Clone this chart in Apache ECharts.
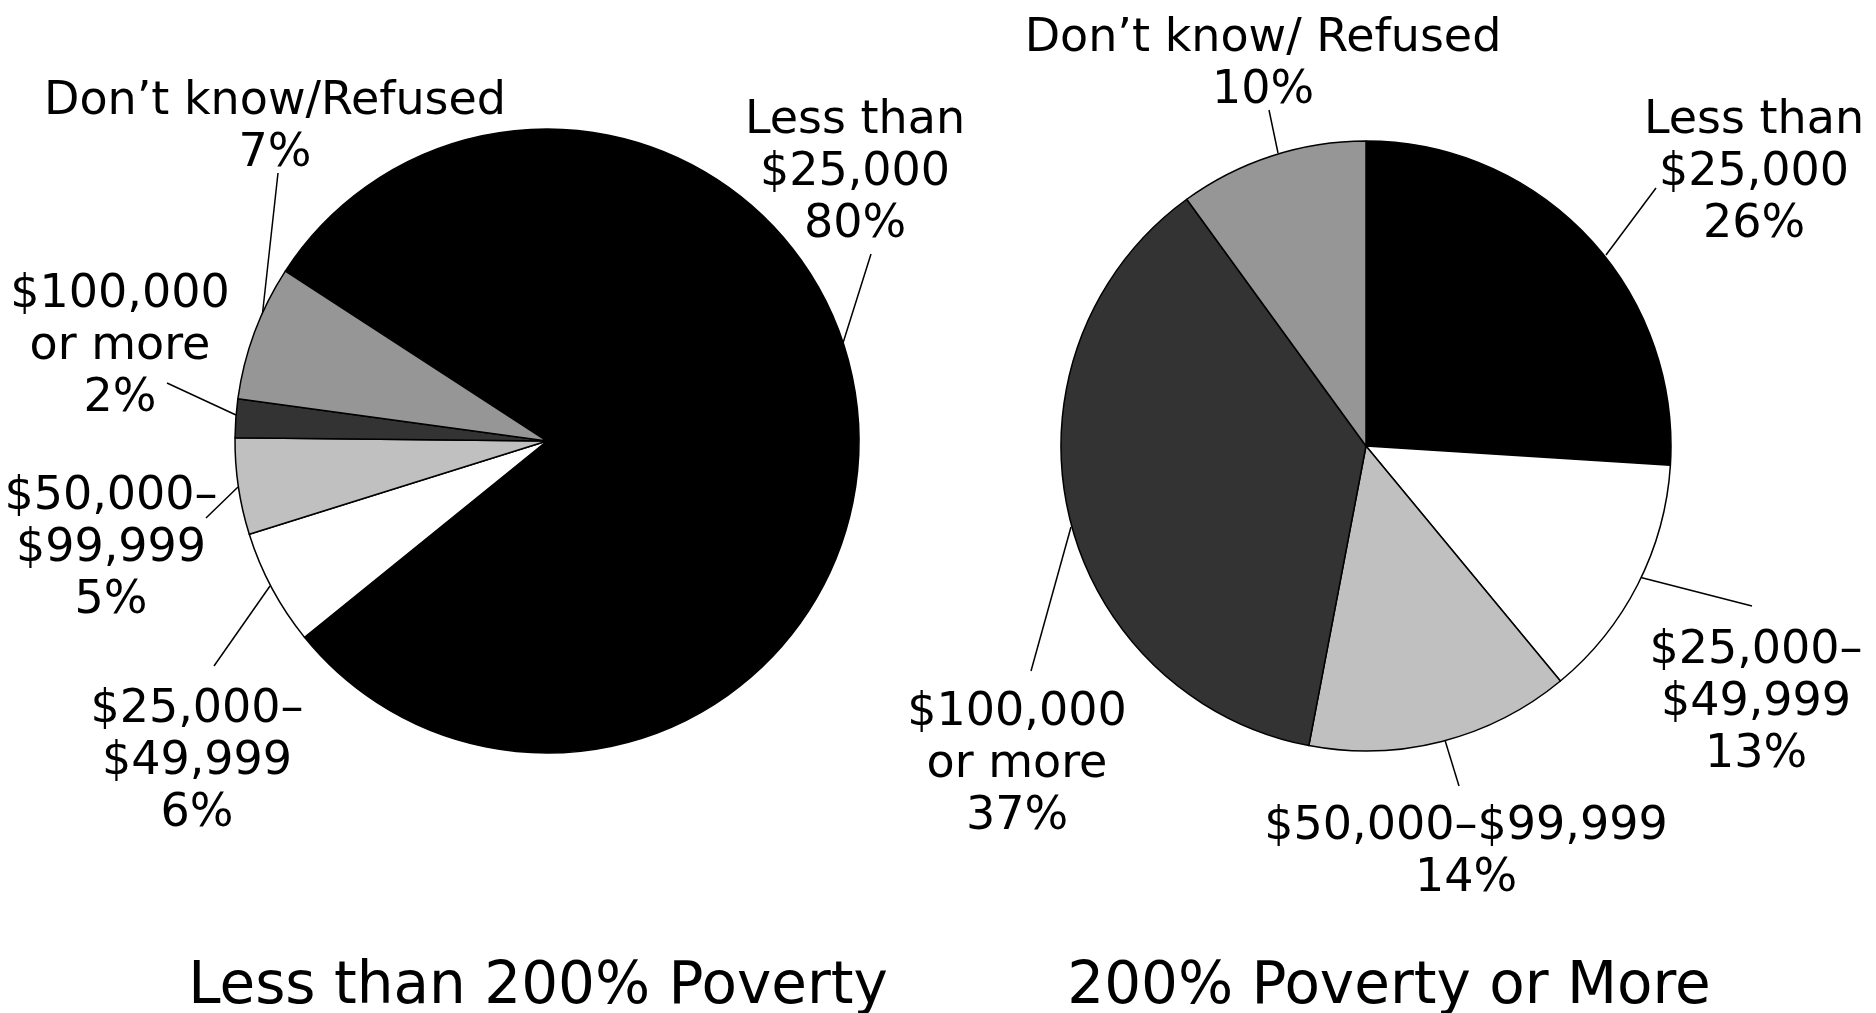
<!DOCTYPE html>
<html>
<head>
<meta charset="utf-8">
<title>Income by poverty level</title>
<script src="https://cdn.jsdelivr.net/npm/echarts@6/dist/echarts.min.js"></script>
<style>
html, body { margin: 0; padding: 0; background: #fff; }
#chart { width: 1876px; height: 1013px; }
</style>
</head>
<body>
<div id="chart"></div>
<script>
// data
const leftNames = ['Less than\n$25,000', '$25,000–\n$49,999', '$50,000–\n$99,999', '$100,000\nor more', 'Don’t know/Refused']
const leftValues = [80, 6, 5, 2, 7]
const rightNames = ['Less than\n$25,000', '$25,000–\n$49,999', '$50,000–$99,999', '$100,000\nor more', 'Don’t know/ Refused']
const rightValues = [26, 13, 14, 37, 10]
const titles = ['Less than 200% Poverty', '200% Poverty or More']

const colors = ['#000000', '#ffffff', '#c0c0c0', '#333333', '#969696']
const fontFamily = '"DejaVu Sans", sans-serif'

// label placement: label centre, leader start (on pie edge), leader end
const leftLabels = [
    { x: 855, y: 173, line: [[843, 343], [871, 254]] },
    { x: 197, y: 762, line: [[270, 586], [214, 666]] },
    { x: 111, y: 549, line: [[238, 487], [206, 518]] },
    { x: 120, y: 347, line: [[236, 415], [167, 383]] },
    { x: 275, y: 128, line: [[262, 318], [278, 173]] }
]
const rightLabels = [
    { x: 1754, y: 173, line: [[1606, 255], [1656, 188]] },
    { x: 1756, y: 703, line: [[1639, 577], [1752, 606]] },
    { x: 1466, y: 853, line: [[1444, 737], [1459, 786]] },
    { x: 1017, y: 765, line: [[1071, 527], [1031, 671]] },
    { x: 1263, y: 65, line: [[1278, 153], [1269, 110]] }
]

const makeLayout = (labels) => (params) => {
    const l = labels[params.dataIndex]
    const a = l.line[0], b = l.line[1]
    return {
        x: l.x,
        y: l.y,
        align: 'center',
        verticalAlign: 'middle',
        labelLinePoints: [a, [(a[0] + b[0]) / 2, (a[1] + b[1]) / 2], b]
    }
}

const makePie = (names, values, labels, center, radius, startAngle) => ({
    type: 'pie',
    center: center,
    radius: radius,
    startAngle: startAngle,
    clockwise: true,
    avoidLabelOverlap: false,
    silent: true,
    data: values.map((v, i) => ({
        name: names[i],
        value: v,
        itemStyle: { color: colors[i] }
    })),
    itemStyle: {
        borderColor: '#000',
        borderWidth: 1.5
    },
    label: {
        show: true,
        position: 'outside',
        formatter: (p) => p.name + '\n' + p.value + '%',
        color: '#000',
        fontSize: 46,
        lineHeight: 52,
        fontFamily: fontFamily,
        align: 'center'
    },
    labelLine: {
        show: true,
        lineStyle: { color: '#000', width: 1.5 }
    },
    labelLayout: makeLayout(labels),
    emphasis: { disabled: true }
})

const initChart = () => {
    const myChart = echarts.init(document.getElementById('chart'), null, { renderer: 'canvas' })
    const option = {
        animation: false,
        backgroundColor: '#fff',
        title: [
            { text: titles[0], left: 533, top: 954, textAlign: 'center' },
            { text: titles[1], left: 1384, top: 954, textAlign: 'center' }
        ].map(t => Object.assign(t, {
            textStyle: { color: '#000', fontSize: 58, fontWeight: 'normal', fontFamily: fontFamily }
        })),
        series: [
            makePie(leftNames, leftValues, leftLabels, [547, 441], 312, 147),
            makePie(rightNames, rightValues, rightLabels, [1366, 446], 305, 90)
        ]
    }
    myChart.setOption(option)
}

initChart()
</script>
</body>
</html>
